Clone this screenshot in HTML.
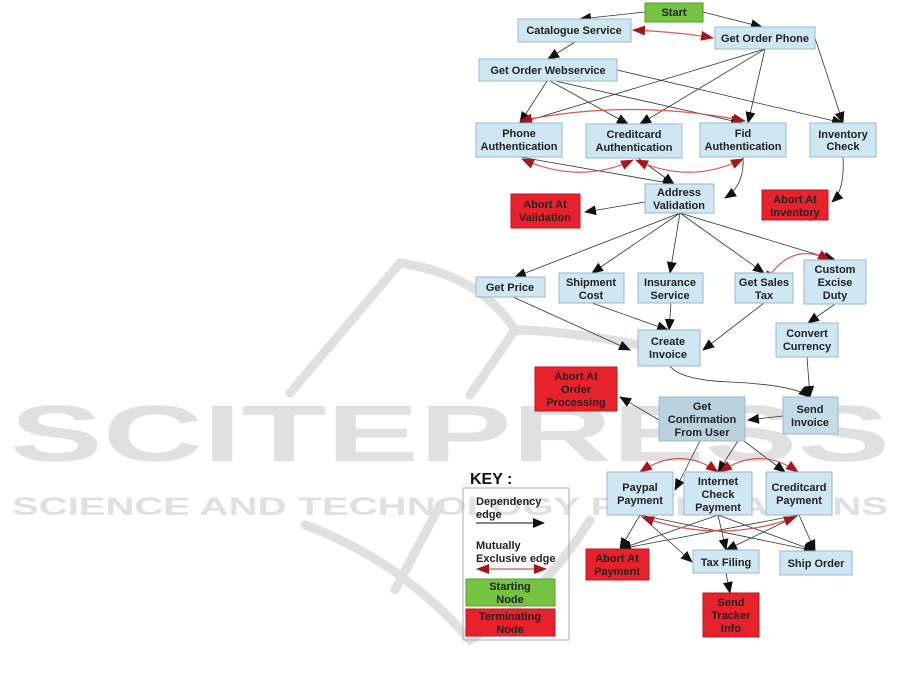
<!DOCTYPE html>
<html><head><meta charset="utf-8"><style>
html,body{margin:0;padding:0;background:#fff}
svg{display:block}
text{font-family:"Liberation Sans",sans-serif;font-weight:bold;font-size:11px;fill:#222;text-anchor:middle}
.n{fill:#cfe6f3;stroke:#9ab8cc;stroke-width:1}
.g{fill:#74c442;stroke:#5a9a34}
.r{fill:#e8222c;stroke:#b51a20}
.d{stroke:#333;stroke-width:0.8;fill:none}
.m{stroke:#d55a4a;stroke-width:1.2;fill:none}
.wm{fill:#e0e0e0;font-size:84px;font-weight:bold;text-anchor:start}
</style></head><body>
<svg width="901" height="690" viewBox="0 0 901 690" xmlns="http://www.w3.org/2000/svg">
<defs>
<marker id="a" markerWidth="12" markerHeight="10" refX="11" refY="5" orient="auto" markerUnits="userSpaceOnUse"><path d="M0,0 L12,5 L0,10 Z" fill="#111"/></marker>
<marker id="ar" markerWidth="13" markerHeight="10" refX="12" refY="5" orient="auto" markerUnits="userSpaceOnUse"><path d="M0,0 L13,5 L0,10 Z" fill="#a8141a"/></marker>
<marker id="as" markerWidth="13" markerHeight="10" refX="1" refY="5" orient="auto" markerUnits="userSpaceOnUse"><path d="M13,0 L0,5 L13,10 Z" fill="#a8141a"/></marker>
</defs>
<!-- watermark -->
<g stroke="#e0e0e0" stroke-width="9" fill="none" stroke-linecap="round">
<path d="M400,263 L290,393"/>
<path d="M400,263 Q480,275 515,330 Q560,330 640,345"/>
<path d="M515,330 L470,395"/>
<path d="M305,525 Q400,560 470,640 Q540,600 590,520"/>
<path d="M395,590 L440,505"/>
</g>
<text class="wm" x="10" y="461" textLength="880" lengthAdjust="spacingAndGlyphs" style="font-size:80px">SCITEPRESS</text>
<text class="wm" x="12" y="515" textLength="876" lengthAdjust="spacingAndGlyphs" style="font-size:25px">SCIENCE AND TECHNOLOGY PUBLICATIONS</text>

<!-- dependency edges -->
<g class="d" marker-end="url(#a)">
<path d="M645,12 L580,19"/>
<path d="M703,12 L762,27"/>
<path d="M575,42 L548,59"/>
<path d="M547,81 L520,123"/>
<path d="M550,81 L628,124"/>
<path d="M555,81 L742,123"/>
<path d="M617,70 L843,123"/>
<path d="M765,49 L520,123"/>
<path d="M765,49 L640,124"/>
<path d="M765,49 L748,123"/>
<path d="M815,38 L843,123"/>
<path d="M520,157 L674,184"/>
<path d="M638,158 L674,184"/>
<path d="M743,157 Q745,185 725,198"/>
<path d="M843,157 Q845,190 832,202"/>
<path d="M645,202 L585,212"/>
<path d="M680,213 L515,277"/>
<path d="M680,213 L592,273"/>
<path d="M680,213 L670,273"/>
<path d="M680,213 L764,273"/>
<path d="M680,213 L835,260"/>
<path d="M513,297 L630,350"/>
<path d="M592,303 L668,330"/>
<path d="M671,303 L669,330"/>
<path d="M764,303 L703,350"/>
<path d="M835,304 L808,323"/>
<path d="M807,357 L810,397"/>
<path d="M670,366 Q680,380 730,382 Q795,385 810,397"/>
<path d="M783,416 L748,420"/>
<path d="M659,420 L620,397"/>
<path d="M700,441 L675,490"/>
<path d="M745,430 L718,472"/>
<path d="M740,438 L785,472"/>
<path d="M640,515 L620,549"/>
<path d="M718,515 L620,549"/>
<path d="M799,515 L620,549"/>
<path d="M640,515 L692,562"/>
<path d="M718,515 L726,550"/>
<path d="M799,515 L726,550"/>
<path d="M640,515 L815,551"/>
<path d="M718,515 L815,551"/>
<path d="M799,515 L815,551"/>
<path d="M726,573 L730,593"/>
</g>
<!-- mutually exclusive edges -->
<g class="m" marker-end="url(#ar)" marker-start="url(#as)">
<path d="M633,30 Q680,32 713,38"/>
<path d="M520,121 Q630,98 745,121"/>
<path d="M522,159 Q580,185 633,160"/>
<path d="M636,160 Q690,185 743,159"/>
<path d="M765,283 Q790,240 830,260"/>
<path d="M640,472 Q680,445 718,472"/>
<path d="M720,472 Q760,445 798,472"/>
<path d="M642,517 Q720,545 796,517"/>
</g>

<!-- nodes -->
<rect class="g" x="645" y="3" width="58" height="19"/><text x="674" y="16">Start</text>
<rect class="n" x="518" y="19" width="113" height="23"/><text x="574" y="34">Catalogue Service</text>
<rect class="n" x="715" y="27" width="100" height="22"/><text x="765" y="42">Get Order Phone</text>
<rect class="n" x="479" y="59" width="138" height="22"/><text x="548" y="74">Get Order Webservice</text>
<rect class="n" x="476" y="123" width="86" height="34"/><text x="519" y="137">Phone</text><text x="519" y="150">Authentication</text>
<rect class="n" x="586" y="124" width="96" height="34"/><text x="634" y="138">Creditcard</text><text x="634" y="151">Authentication</text>
<rect class="n" x="700" y="123" width="86" height="34"/><text x="743" y="137">Fid</text><text x="743" y="150">Authentication</text>
<rect class="n" x="810" y="123" width="66" height="34"/><text x="843" y="138">Inventory</text><text x="843" y="150">Check</text>
<rect class="n" x="645" y="184" width="69" height="29"/><text x="679" y="196">Address</text><text x="679" y="209">Validation</text>
<rect class="r" x="511" y="194" width="69" height="34"/><text x="545" y="208">Abort At</text><text x="545" y="221">Validation</text>
<rect class="r" x="762" y="190" width="66" height="30"/><text x="795" y="203">Abort At</text><text x="795" y="216">Inventory</text>
<rect class="n" x="476" y="277" width="69" height="20"/><text x="510" y="291">Get Price</text>
<rect class="n" x="559" y="273" width="65" height="30"/><text x="591" y="286">Shipment</text><text x="591" y="299">Cost</text>
<rect class="n" x="638" y="273" width="65" height="30"/><text x="670" y="286">Insurance</text><text x="670" y="299">Service</text>
<rect class="n" x="735" y="273" width="58" height="30"/><text x="764" y="286">Get Sales</text><text x="764" y="299">Tax</text>
<rect class="n" x="804" y="260" width="62" height="44"/><text x="835" y="273">Custom</text><text x="835" y="286">Excise</text><text x="835" y="299">Duty</text>
<rect class="n" x="638" y="330" width="62" height="36"/><text x="668" y="345">Create</text><text x="668" y="358">Invoice</text>
<rect class="n" x="776" y="323" width="62" height="34"/><text x="807" y="337">Convert</text><text x="807" y="350">Currency</text>
<rect class="r" x="535" y="367" width="82" height="44"/><text x="576" y="380">Abort At</text><text x="576" y="393">Order</text><text x="576" y="406">Processing</text>
<rect class="n" x="659" y="397" width="86" height="44" style="fill:#b9d2de"/><text x="702" y="410">Get</text><text x="702" y="423">Confirmation</text><text x="702" y="436">From User</text>
<rect class="n" x="783" y="397" width="55" height="37" style="fill:#c4dce8"/><text x="810" y="413">Send</text><text x="810" y="426">Invoice</text>
<rect class="n" x="607" y="472" width="66" height="43"/><text x="640" y="491">Paypal</text><text x="640" y="504">Payment</text>
<rect class="n" x="684" y="472" width="68" height="43"/><text x="718" y="485">Internet</text><text x="718" y="498">Check</text><text x="718" y="511">Payment</text>
<rect class="n" x="766" y="472" width="66" height="43"/><text x="799" y="491">Creditcard</text><text x="799" y="504">Payment</text>
<rect class="r" x="586" y="549" width="63" height="31"/><text x="617" y="562">Abort At</text><text x="617" y="575">Payment</text>
<rect class="n" x="693" y="550" width="66" height="23"/><text x="726" y="566">Tax Filing</text>
<rect class="n" x="780" y="551" width="72" height="24"/><text x="816" y="567">Ship Order</text>
<rect class="r" x="703" y="593" width="56" height="44"/><text x="731" y="606">Send</text><text x="731" y="619">Tracker</text><text x="731" y="632">Info</text>

<!-- key -->
<text x="470" y="484" style="font-size:16px;text-anchor:start;fill:#111">KEY :</text>
<rect x="463" y="488" width="106" height="152" fill="none" stroke="#aab" stroke-width="1"/>
<text x="476" y="505" style="text-anchor:start">Dependency</text>
<text x="476" y="518" style="text-anchor:start">edge</text>
<path d="M476,523 L544,523" class="d" marker-end="url(#a)" style="stroke:#111;stroke-width:1"/>
<text x="476" y="549" style="text-anchor:start">Mutually</text>
<text x="476" y="562" style="text-anchor:start">Exclusive edge</text>
<path d="M477,569 L546,569" class="m" marker-end="url(#ar)" marker-start="url(#as)"/>
<rect class="g" x="466" y="579" width="89" height="27"/><text x="510" y="590">Starting</text><text x="510" y="603">Node</text>
<rect class="r" x="466" y="609" width="89" height="27"/><text x="510" y="620">Terminating</text><text x="510" y="633">Node</text>
</svg>
</body></html>
